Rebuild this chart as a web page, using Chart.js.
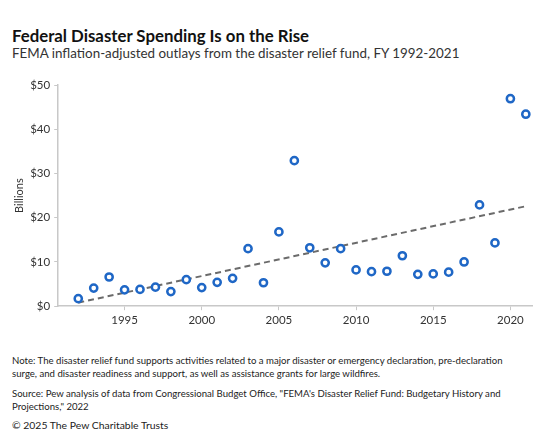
<!DOCTYPE html>
<html>
<head>
<meta charset="utf-8">
<script src="https://cdn.jsdelivr.net/npm/chart.js@4/dist/chart.umd.min.js"></script>
<style>
  body { margin: 0; width: 550px; height: 444px; background: #fff; font-family: Lato, sans-serif; color: #222; position: relative; overflow: hidden; }
  #title { position: absolute; left: 12px; top: 25px; font-size: 16.8px; font-weight: bold; color: #111; }
  #subtitle { position: absolute; left: 12px; top: 45px; font-size: 13.4px; color: #333; }
  #wrap { position: absolute; left: 0; top: 70px; width: 550px; height: 260px; }
  #notes { position: absolute; left: 12px; top: 354px; width: 536px; font-size: 9.6px; line-height: 13.3px; color: #222; white-space: nowrap; }
  #notes p { margin: 0 0 6px 0; }
  #notes .copy { font-size: 10.4px; }
</style>
</head>
<body>
<div id="title">Federal Disaster Spending Is on the Rise</div>
<div id="subtitle">FEMA inflation-adjusted outlays from the disaster relief fund, FY 1992-2021</div>
<div id="wrap"><canvas id="chart"></canvas></div>
<div id="notes">
  <p>Note: The disaster relief fund supports activities related to a major disaster or emergency declaration, pre-declaration<br>surge, and disaster readiness and support, as well as assistance grants for large wildfires.</p>
  <p>Source: Pew analysis of data from Congressional Budget Office, "FEMA's Disaster Relief Fund: Budgetary History and<br>Projections," 2022</p>
  <p class="copy">© 2025 The Pew Charitable Trusts</p>
</div>
<script>
// fiscal years and outlays (billions, inflation-adjusted)
const years = [1992, 1993, 1994, 1995, 1996, 1997, 1998, 1999, 2000, 2001,
  2002, 2003, 2004, 2005, 2006, 2007, 2008, 2009, 2010, 2011,
  2012, 2013, 2014, 2015, 2016, 2017, 2018, 2019, 2020, 2021];
const outlays = [1.7, 4.1, 6.6, 3.7, 3.8, 4.3, 3.3, 6.0, 4.2, 5.4,
  6.3, 13.0, 5.3, 16.8, 32.9, 13.2, 9.8, 13.0, 8.2, 7.8,
  7.9, 11.4, 7.2, 7.3, 7.7, 10.0, 22.9, 14.3, 46.9, 43.4];
// trend line end points
const trendYears = [1992, 2021];
const trendValues = [0.8, 22.6];
const xTicks = [1995, 2000, 2005, 2010, 2015, 2020];
const yTicks = [0, 10, 20, 30, 40, 50];

const blue = '#1f67c6';
const axisGrey = '#c8c8c8';

const ctx = document.getElementById('chart').getContext('2d');
const chart = new Chart(ctx, {
  type: 'scatter',
  data: {
    datasets: [{
      label: 'Trend',
      data: trendYears.map((y, i) => ({ x: y, y: trendValues[i] })),
      showLine: true,
      borderColor: '#6b6b6b',
      borderWidth: 2,
      borderDash: [6, 4],
      pointRadius: 0,
      order: 2
    }, {
      label: 'Outlays',
      data: years.map((y, i) => ({ x: y, y: outlays[i] })),
      pointRadius: 3.6,
      pointBorderWidth: 2.5,
      pointBorderColor: blue,
      pointBackgroundColor: '#fff',
      order: 1
    }]
  },
  options: {
    responsive: true,
    maintainAspectRatio: false,
    animation: false,
    layout: { padding: { left: 13, right: 18, top: 15, bottom: 0 } },
    plugins: { legend: { display: false }, tooltip: { enabled: false } },
    scales: {
      x: {
        type: 'linear',
        min: 1990.7,
        max: 2021.4,
        afterBuildTicks: axis => { axis.ticks = xTicks.map(v => ({ value: v })); },
        ticks: {
          callback: v => String(v),
          color: '#333',
          font: { family: 'Lato', size: 11.5 },
          maxRotation: 0,
          padding: 3
        },
        grid: { drawOnChartArea: false, drawTicks: true, tickLength: 4, color: axisGrey },
        border: { display: true, color: axisGrey, width: 1.5 }
      },
      y: {
        min: 0,
        max: 50,
        afterBuildTicks: axis => { axis.ticks = yTicks.map(v => ({ value: v })); },
        ticks: {
          callback: v => '$' + v,
          color: '#333',
          font: { family: 'Lato', size: 11.5 },
          padding: 4
        },
        title: {
          display: true,
          text: 'Billions',
          color: '#333',
          font: { family: 'Lato', size: 11 },
          padding: { top: 0, bottom: 0 }
        },
        grid: { drawOnChartArea: false, drawTicks: true, tickLength: 4, color: axisGrey },
        border: { display: true, color: axisGrey, width: 1.5 }
      }
    }
  }
});
</script>
</body>
</html>
